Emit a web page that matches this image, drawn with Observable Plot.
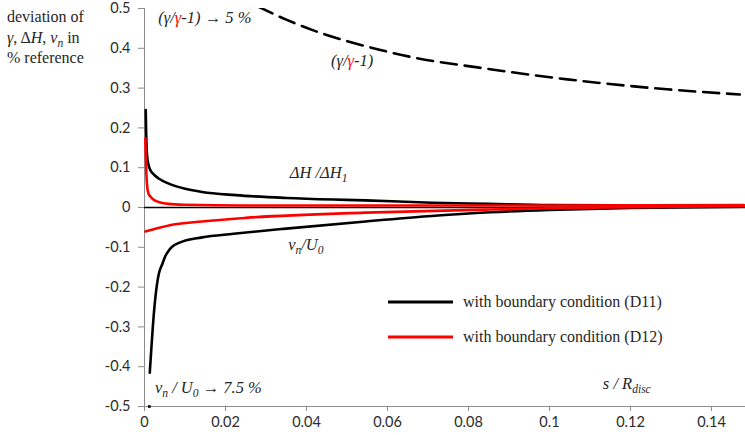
<!DOCTYPE html>
<html>
<head>
<meta charset="utf-8">
<script src="https://cdn.jsdelivr.net/npm/d3@7"></script>
<script src="https://cdn.jsdelivr.net/npm/@observablehq/plot@0.6"></script>
<style>
  html, body { margin: 0; padding: 0; background: #fff; }
  #chart { position: relative; width: 745px; height: 435px; }
</style>
</head>
<body>
<div id="chart"></div>
<script>
// ---- data (s / R_disc, deviation) ----
const xTicks = [0, 0.02, 0.04, 0.06, 0.08, 0.1, 0.12, 0.14];
const yTicks = [-0.5, -0.4, -0.3, -0.2, -0.1, 0, 0.1, 0.2, 0.3, 0.4, 0.5];

const dH_D11_s = [0.0003, 0.0004, 0.0005, 0.00067, 0.001, 0.0015, 0.0025, 0.0035, 0.006, 0.0101, 0.0142, 0.0225, 0.035, 0.0467, 0.0546, 0.071, 0.085, 0.1, 0.12, 0.148];
const dH_D11_v = [0.245, 0.19, 0.155, 0.127, 0.107, 0.093, 0.081, 0.073, 0.06, 0.047, 0.039, 0.031, 0.024, 0.02, 0.018, 0.012, 0.009, 0.006, 0.005, 0.004];

const vn_D11_s = [0.0013, 0.0017, 0.0023, 0.0031, 0.0036, 0.0044, 0.0051, 0.006, 0.0069, 0.0085, 0.0142, 0.022, 0.035, 0.0546, 0.07, 0.0854, 0.1, 0.12, 0.148];
const vn_D11_v = [-0.415, -0.353, -0.268, -0.192, -0.164, -0.142, -0.123, -0.108, -0.098, -0.089, -0.075, -0.066, -0.053, -0.035, -0.022, -0.012, -0.006, -0.001, 0.002];

const dH_D12_s = [0.0002, 0.0004, 0.00067, 0.001, 0.0015, 0.0025, 0.0035, 0.006, 0.01, 0.025, 0.05, 0.1, 0.148];
const dH_D12_v = [0.174, 0.102, 0.052, 0.035, 0.027, 0.018, 0.014, 0.009, 0.007, 0.005, 0.005, 0.005, 0.006];

const vn_D12_s = [0.0002, 0.002, 0.006, 0.0142, 0.025, 0.0546, 0.0854, 0.1, 0.12, 0.148];
const vn_D12_v = [-0.06, -0.055, -0.045, -0.035, -0.026, -0.013, -0.005, -0.002, 0.001, 0.003];

const gamma_s = [0.028, 0.035, 0.0417, 0.054, 0.0664, 0.0822, 0.1044, 0.129, 0.147];
const gamma_v = [0.505, 0.472, 0.445, 0.407, 0.377, 0.352, 0.322, 0.297, 0.284];

const vnEnd_s = [0.0012];
const vnEnd_v = [-0.5];

const legendLabels = ["with boundary condition (D11)", "with boundary condition (D12)"];
const seriesColors = ["#000000", "#ff0000"];

// ---- build tables ----
const zip = (s, v) => s.map((x, i) => ({s: x, v: v[i]}));
const dH11 = zip(dH_D11_s, dH_D11_v);
const vn11 = zip(vn_D11_s, vn_D11_v);
const dH12 = zip(dH_D12_s, dH_D12_v);
const vn12 = zip(vn_D12_s, vn_D12_v);
const gam = zip(gamma_s, gamma_v);
const vnEnd = zip(vnEnd_s, vnEnd_v);

const fmt = d => String(Math.round(d * 100) / 100);
const tickFont = "Lato, 'Open Sans', sans-serif";
const serif = "'Liberation Serif', 'Times New Roman', serif";

const lineOpts = (color) => ({x: "s", y: "v", stroke: color, strokeWidth: 2.6, curve: "monotone-x"});

const chart = Plot.plot({
  width: 745,
  height: 435,
  marginLeft: 144,
  marginRight: 0,
  marginTop: 8,
  marginBottom: 29,
  style: {fontFamily: tickFont, fontSize: "14.5px", background: "white", overflow: "visible"},
  x: {domain: [0, 0.1484]},
  y: {domain: [-0.5, 0.5]},
  marks: [
    Plot.axisX({ticks: xTicks, tickFormat: fmt, tickSize: 5, tickPadding: 5, stroke: "#8c8c8c", fill: "#2b2b2b", label: null}),
    Plot.axisY({ticks: yTicks, tickFormat: fmt, tickSize: 6, tickPadding: 8, stroke: "#8c8c8c", fill: "#2b2b2b", label: null}),
    Plot.ruleX([0], {stroke: "#8c8c8c", strokeWidth: 1}),
    Plot.ruleY([-0.5], {stroke: "#8c8c8c", strokeWidth: 1}),
    Plot.ruleY([0], {stroke: "#000", strokeWidth: 1.3}),
    Plot.line(gam, {x: "s", y: "v", stroke: "#000", strokeWidth: 2.6, strokeDasharray: "16,8", curve: "monotone-x", clip: true}),
    Plot.line(dH11, lineOpts(seriesColors[0])),
    Plot.line(vn11, lineOpts(seriesColors[0])),
    Plot.line(dH12, lineOpts(seriesColors[1])),
    Plot.line(vn12, lineOpts(seriesColors[1])),
    Plot.dot(vnEnd, {x: "s", y: "v", r: 1.5, fill: "#000", symbol: "square"})
  ]
});
document.getElementById("chart").appendChild(chart);

const svg = d3.select(chart);
const X = chart.scale("x"), Y = chart.scale("y");

function fillParts(t, parts, defItalic) {
  let sub = false;
  parts.forEach(p => {
    const ts = t.append("tspan").text(p.t);
    const it = p.i === undefined ? defItalic : p.i;
    if (it) ts.attr("font-style", "italic");
    if (p.c) ts.attr("fill", p.c);
    if (p.sub) {
      ts.attr("font-size", 11.5);
      if (!sub) { ts.attr("dy", 4); sub = true; }
    } else if (sub) { ts.attr("dy", -4); sub = false; }
  });
}

function annotate(s, v, parts, opts = {}) {
  const t = svg.append("text")
    .attr("x", X.apply(s)).attr("y", Y.apply(v))
    .attr("font-family", serif).attr("font-size", opts.size || 16.5)
    .attr("fill", "#262626")
    .attr("text-anchor", opts.anchor || "start");
  fillParts(t, parts, true);
}

annotate(0.0035, 0.462, [{t: "(γ/"}, {t: "γ", c: "#ff0000"}, {t: "-1) → 5 %"}]);
annotate(0.0514, 0.354, [{t: "(γ/"}, {t: "γ", c: "#ff0000"}, {t: "-1)"}], {anchor: "middle"});
annotate(0.036, 0.073, [{t: "ΔH /ΔH"}, {t: "1", sub: true}]);
annotate(0.0356, -0.108, [{t: "v"}, {t: "n", sub: true}, {t: "/U"}, {t: "0", sub: true}]);
annotate(0.0027, -0.467, [{t: "v"}, {t: "n", sub: true}, {t: " / U"}, {t: "0", sub: true}, {t: " → 7.5 %"}]);
annotate(0.1133, -0.457, [{t: "s / R"}, {t: "disc", sub: true}]);

// y-axis title
const yt = [
  [{t: "deviation of"}],
  [{t: "γ", i: true}, {t: ", Δ"}, {t: "H", i: true}, {t: ", "}, {t: "v", i: true}, {t: "n", i: true, sub: true}, {t: " in"}],
  [{t: "% reference"}]
];
yt.forEach((parts, k) => {
  const t = svg.append("text").attr("x", 7).attr("y", 22 + k * 20.5)
    .attr("text-anchor", "start")
    .attr("font-family", serif).attr("font-size", 16).attr("fill", "#262626");
  fillParts(t, parts, false);
});

// legend
const lg = svg.append("g");
legendLabels.forEach((lab, i) => {
  const y = 302 + i * 35;
  lg.append("line").attr("x1", 388).attr("x2", 453).attr("y1", y).attr("y2", y)
    .attr("stroke", seriesColors[i]).attr("stroke-width", 3);
  lg.append("text").attr("x", 463).attr("y", y + 5).attr("text-anchor", "start")
    .attr("font-family", serif).attr("font-size", 16).attr("fill", "#262626").text(lab);
});
</script>
</body>
</html>
